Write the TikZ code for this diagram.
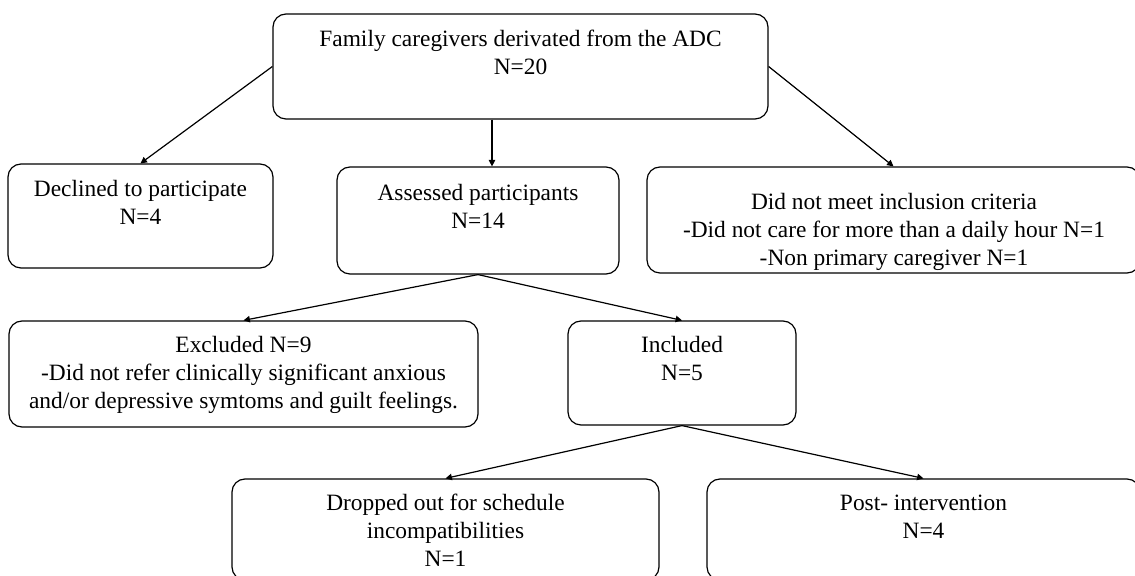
\documentclass[tikz,border=0pt]{standalone}
\usepackage{fontspec}
\setmainfont{Liberation Serif}
\usetikzlibrary{arrows.meta,calc}
\begin{document}
\begin{tikzpicture}[x=0.5pt,y=-0.5pt,
  box/.style={draw=black,line width=0.6pt,rounded corners=6.5pt,inner sep=0pt},
  txt/.style={anchor=north,align=center,inner sep=0pt,font=\fontsize{11.7}{14}\selectfont},
  arr/.style={line width=0.6pt,-{Triangle[length=3.2pt,width=3.2pt]}}]
\clip (0,0) rectangle (1135,576);
% boxes
\node[box,minimum width=247.5pt,minimum height=52.5pt] (top) at (520.5,66.5) {};
\node[box,minimum width=132.5pt,minimum height=52pt] (decl) at (140.5,216) {};
\node[box,minimum width=141pt,minimum height=53.5pt] (assess) at (478,220.5) {};
\node[box,minimum width=246.5pt,minimum height=53pt] (crit) at (893.5,220) {};
\node[box,minimum width=234.5pt,minimum height=53pt] (excl) at (243.5,374) {};
\node[box,minimum width=114pt,minimum height=52pt] (incl) at (682,373) {};
\node[box,minimum width=213.5pt,minimum height=50.5pt] (drop) at (445.5,529.5) {};
\node[box,minimum width=216.5pt,minimum height=50.5pt] (post) at (923.5,529.5) {};
% texts
\node[txt] (t1) at (520.5,30) {Family caregivers derivated from the ADC\\N=20};
\node[txt] (t2) at (140.5,180) {Declined to participate\\N=4};
\node[txt] (t3) at (478,184) {Assessed participants\\N=14};
\node[txt] (t4) at (894,193) {Did not meet inclusion criteria\\-Did not care for more than a daily hour N=1\\-Non primary caregiver N=1};
\node[txt] (t5) at (243.5,336) {Excluded N=9\\-Did not refer clinically significant anxious\\and/or depressive symtoms and guilt feelings.};
\node[txt] (t6) at (682,336) {Included\\N=5};
\node[txt] (t7) at (445.5,494) {Dropped out for schedule\\incompatibilities\\N=1};
\node[txt] (t8) at (923.5,494.5) {Post- intervention\\N=4};
% connectors
\coordinate (a1) at ($(assess.north)+(14,0)$);
\draw[arr] (top.west) -- (decl.north);
\draw[arr] (top.east) -- (crit.north);
\draw[arr] (top.south -| a1) -- (a1);
\draw[arr] (assess.south) -- (excl.north);
\draw[arr] (assess.south) -- (incl.north);
\draw[arr] (incl.south) -- (drop.north);
\draw[arr] (incl.south) -- (post.north);
\end{tikzpicture}
\end{document}
